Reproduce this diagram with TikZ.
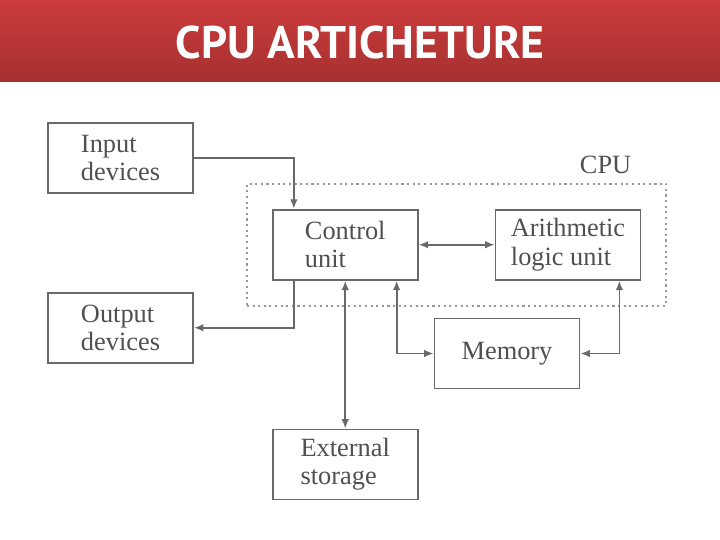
\documentclass[tikz,border=0pt]{standalone}
\usepackage{fontspec}
\setmainfont{Liberation Serif}
\newfontfamily\titlefont{PT Sans}
\usepackage{xcolor}
\usetikzlibrary{
arrows.meta,
positioning,
fit,
backgrounds,
calc
}
\definecolor{barTop}{RGB}{204,60,60}
\definecolor{barBottom}{RGB}{166,48,48}
\definecolor{lineGray}{RGB}{105,105,105}
\definecolor{textGray}{RGB}{80,80,80}

\begin{document}
\begin{tikzpicture}[
node distance=1.2cm,
box/.style={
draw=lineGray,
line width=1pt,
fill=white,
minimum width=2.9cm,
minimum height=1.4cm,
align=left,
text=textGray,
font=\fontsize{15}{16}\selectfont
},
arrow/.style={->,>={Latex[length=1.9mm,width=1.5mm]},draw=lineGray,line width=1pt},
biarrow/.style={arrow,<->}
]

\useasboundingbox (0,0) rectangle (14.4,-10.8);

% title bar
\shade[top color=barTop,bottom color=barBottom] (0,0) rectangle (14.4,-1.64);
\node[text=white,font=\titlefont\bfseries\fontsize{26}{29}\selectfont] (title) at (7.2,-0.86) {CPU ARTICHETURE};

\node[box] (input) at (2.41,-3.16) {Input\\devices};
\node[box,below=1.96cm of input] (output) {Output\\devices};
\node[box,below right=0.3cm and 1.56cm of input] (control) {Control\\unit};
\node[box,right=1.52cm of control] (alu) {Arithmetic\\logic unit};
\node[box,below right=0.74cm and 0.3cm of control] (memory) {Memory};
\node[box,below=2.96cm of control] (storage) {External\\storage};

% CPU frame
\node[draw=lineGray!70,dotted,line width=1.2pt,inner sep=0.5cm,fit=(control)(alu)] (cpu) {};
\node[above left=0.05cm and 0.6cm of cpu.north east,text=textGray,font=\fontsize{15}{16}\selectfont] (cpulabel) {CPU};

\draw[arrow] (input) -| ([xshift=0.44cm]control.north west);
\draw[arrow] ([xshift=0.44cm]control.south west) |- (output);
\draw[biarrow] (control) -- (alu);
\draw[biarrow] (control) -- (storage);
\draw[biarrow] ([xshift=-0.44cm]control.south east) |- (memory);
\draw[biarrow] ([xshift=-0.44cm]alu.south east) |- (memory);

\end{tikzpicture}
\end{document}
